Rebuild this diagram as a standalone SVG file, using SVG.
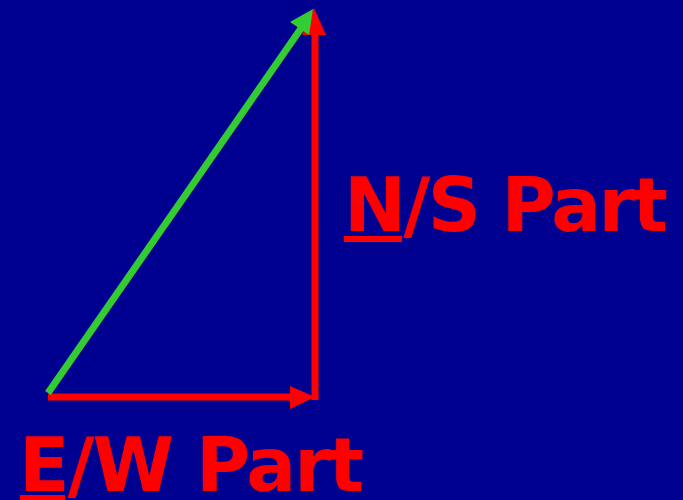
<svg xmlns="http://www.w3.org/2000/svg" width="683" height="500" viewBox="0 0 683 500">
<style>
.lbl{font-family:"DejaVu Sans",Verdana,sans-serif;font-weight:bold;fill:#FF0000;font-size:74px}
.red{stroke:#FF0000;stroke-width:7;fill:none}
.grn{stroke:#33CC33;stroke-width:7;fill:none}
</style>
<rect width="683" height="500" fill="#000090"/>
<g id="connectors">
<line class="red" x1="48" y1="397" x2="296" y2="397"/>
<polygon points="315,397 290,386 290,409" fill="#FF0000"/>
<line class="red" x1="315" y1="400" x2="315" y2="30"/>
<polygon points="314,8 302,35 326,35" fill="#FF0000"/>
<line class="grn" x1="48" y1="393" x2="302" y2="27"/>
<polygon points="313,9 290,22 309,35" fill="#33CC33"/>
</g>
<g id="ns-label">
<text class="lbl" x="344" y="231" style="letter-spacing:-2.6px">N/S Part</text>
<rect x="344" y="236" width="58" height="6" fill="#FF0000"/>
</g>
<g id="ew-label">
<text class="lbl" x="19" y="491" style="letter-spacing:-2px">E/W Part</text>
<rect x="20" y="495" width="45" height="5" fill="#FF0000"/>
</g>
</svg>
